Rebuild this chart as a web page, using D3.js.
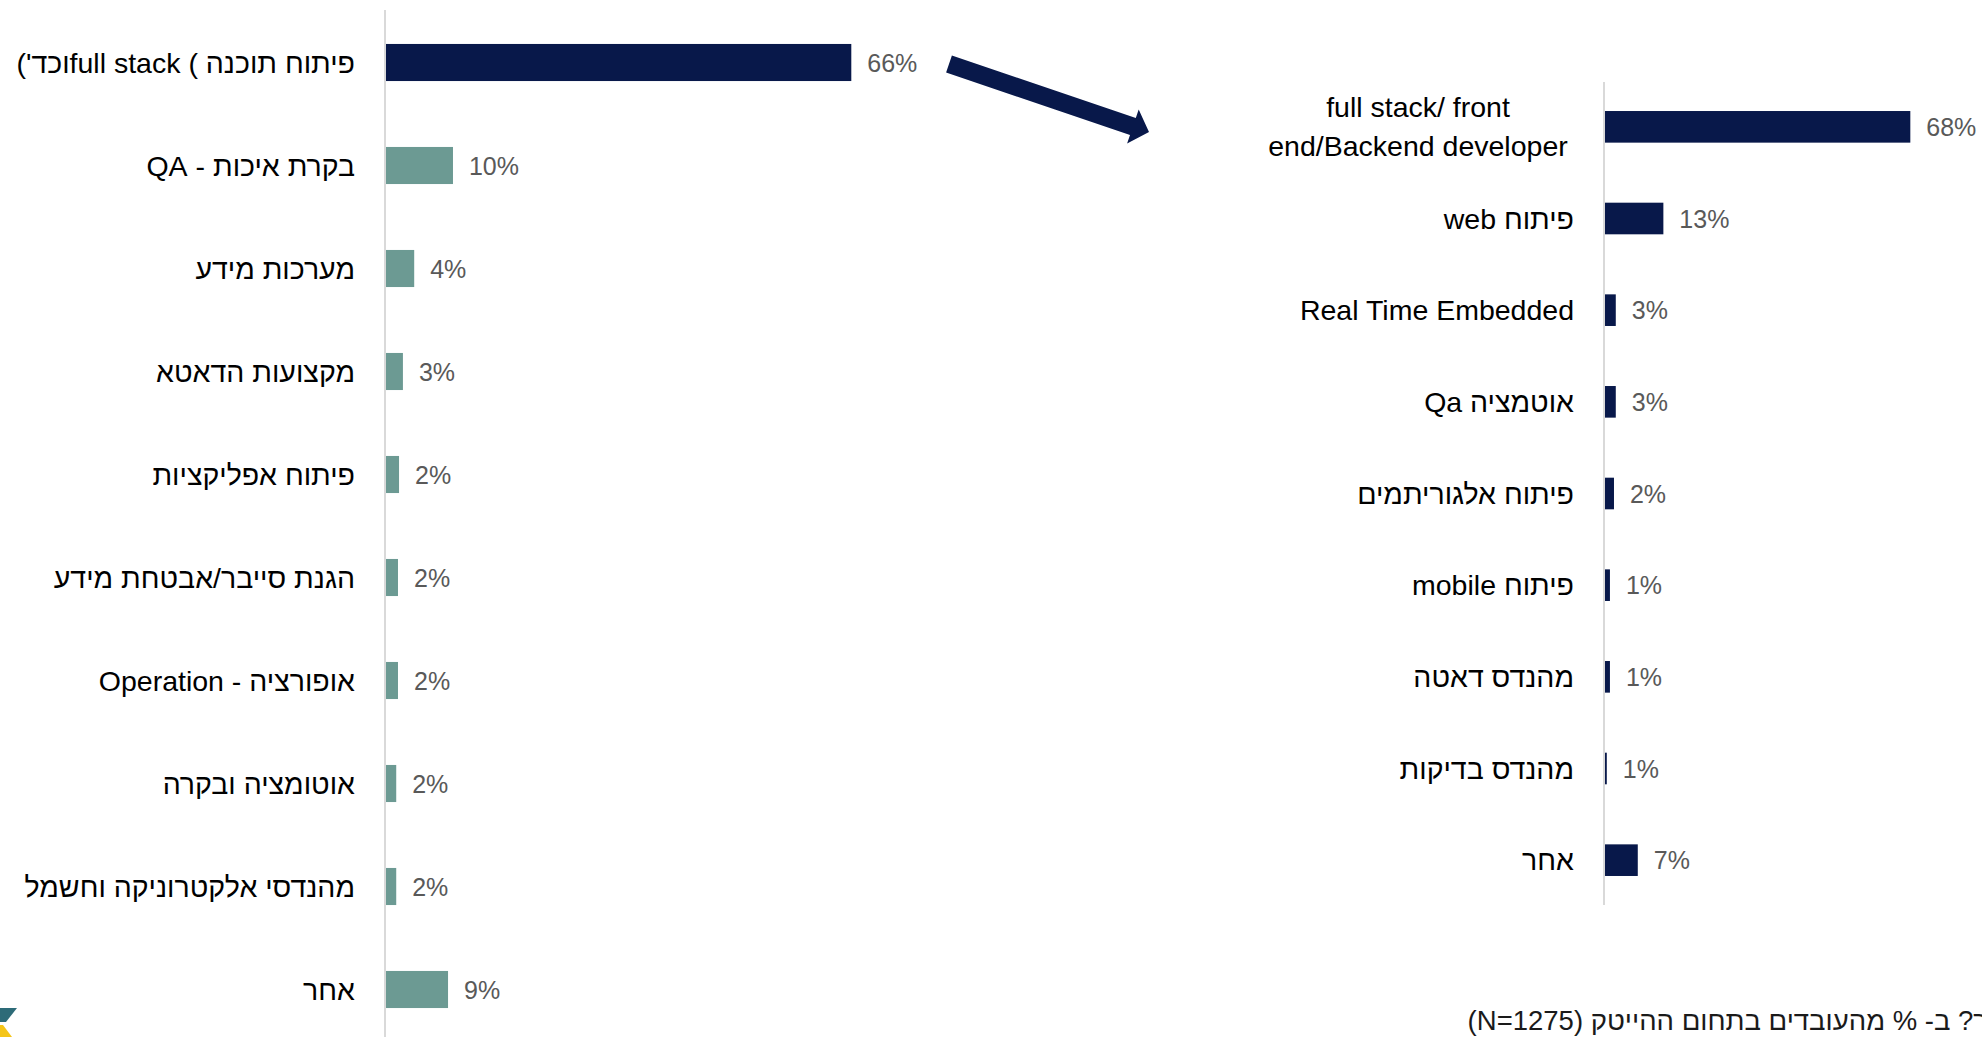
<!DOCTYPE html>
<html>
<head>
<meta charset="utf-8">
<script src="https://cdn.jsdelivr.net/npm/d3@7"></script>
<style>
  html, body { margin: 0; padding: 0; background: #fff; }
  svg { display: block; font-family: "Liberation Sans", Arial, sans-serif; }
</style>
</head>
<body>
<div class="layout"></div>
<script>
// left chart: all tech workers
var leftCats = [
    "פיתוח תוכנה ) full stackוכד')",
    "בקרת איכות - QA",
    "מערכות מידע",
    "מקצועות הדאטא",
    "פיתוח אפליקציות",
    "הגנת סייבר/אבטחת מידע",
    "אופורציה - Operation",
    "אוטומציה ובקרה",
    "מהנדסי אלקטרוניקה וחשמל",
    "אחר"
];
var leftValues = [66, 9.5, 4.0, 2.4, 1.85, 1.7, 1.7, 1.45, 1.45, 8.8];
var leftLabels = ["66%", "10%", "4%", "3%", "2%", "2%", "2%", "2%", "2%", "9%"];

// right chart: software development breakdown
var rightCats = [
    ["full stack/ front", "end/Backend developer"],
    "פיתוח web",
    "Real Time Embedded",
    "אוטמציה Qa",
    "פיתוח אלגוריתמים",
    "פיתוח mobile",
    "מהנדס דאטה",
    "מהנדס בדיקות",
    "אחר"
];
var rightValues = [68, 13, 2.4, 2.4, 2.0, 1.1, 1.1, 0.4, 7.3];
var rightLabels = ["68%", "13%", "3%", "3%", "2%", "1%", "1%", "1%", "7%"];

var footnote = "ך? ב- % מהעובדים בתחום ההייטק (N=1275)";

var navy = "#08184a",
    teal = "#6c9a93",
    grey = "#595959";

var W = 1982, H = 1037;

var svg = d3.select(".layout").append("svg")
    .attr("width", W)
    .attr("height", H);

svg.append("rect").attr("width", W).attr("height", H).attr("fill", "#fff");

function barChart(opt) {
    var idx = d3.range(opt.cats.length);

    var y = d3.scaleBand()
        .domain(idx)
        .range(opt.yRange)
        .paddingInner(opt.padIn)
        .paddingOuter(opt.padIn / 2);

    var x = d3.scaleLinear()
        .domain([0, 100])
        .range([opt.x0, opt.x0 + opt.span]);

    var g = svg.append("g").attr("class", opt.cls);

    g.selectAll("rect.bar")
        .data(idx)
        .enter().append("rect")
        .attr("class", "bar")
        .attr("x", x(0))
        .attr("y", function(i) { return y(i); })
        .attr("width", function(i) { return x(opt.values[i]) - x(0); })
        .attr("height", y.bandwidth())
        .attr("fill", function(i) { return opt.color(i); });

    // vertical axis line
    g.append("line")
        .attr("x1", x(0) - 1).attr("x2", x(0) - 1)
        .attr("y1", opt.axisY[0]).attr("y2", opt.axisY[1])
        .attr("stroke", "#d9d9d9")
        .attr("stroke-width", 2);

    g.selectAll("text.val")
        .data(idx)
        .enter().append("text")
        .attr("class", "val")
        .attr("x", function(i) { return x(opt.values[i]) + 16; })
        .attr("y", function(i) { return y(i) + y.bandwidth() / 2; })
        .attr("dy", "0.36em")
        .attr("fill", grey)
        .style("font-size", "25px")
        .text(function(i) { return opt.labels[i]; });

    var cat = g.selectAll("text.cat")
        .data(idx)
        .enter().append("text")
        .attr("class", "cat")
        .attr("y", function(i) { return y(i) + y.bandwidth() / 2; })
        .attr("fill", "#000")
        .style("font-size", "28.5px");

    cat.each(function(i) {
        var t = d3.select(this), c = opt.cats[i];
        if (Array.isArray(c)) {
            // wrapped label, centred like the original
            t.attr("x", opt.labelX - 156).attr("text-anchor", "middle");
            c.forEach(function(line, k) {
                t.append("tspan")
                    .attr("x", opt.labelX - 156)
                    .attr("dy", k === 0 ? "-0.36em" : "1.38em")
                    .text(line);
            });
        } else {
            t.attr("x", opt.labelX)
                .attr("dy", "0.36em")
                .attr("direction", "rtl")
                .attr("text-anchor", "start")
                .text(c);
        }
    });
}

barChart({
    cls: "left",
    cats: leftCats, values: leftValues, labels: leftLabels,
    yRange: [11, 1041], padIn: 0.64,
    x0: 386, span: 705,
    axisY: [10, 1037],
    labelX: 355,
    color: function(i) { return i === 0 ? navy : teal; }
});

barChart({
    cls: "right",
    cats: rightCats, values: rightValues, labels: rightLabels,
    yRange: [81, 906], padIn: 0.655,
    x0: 1605, span: 449,
    axisY: [82, 905],
    labelX: 1574,
    color: function() { return navy; }
});

// block arrow from the left 66% bar to the right chart
var aStart = [949, 64], aTip = [1149, 132];
var shaft = 18, headW = 36, headL = 17;
(function() {
    var dx = aTip[0] - aStart[0], dy = aTip[1] - aStart[1];
    var len = Math.sqrt(dx * dx + dy * dy);
    var u = [dx / len, dy / len], n = [-u[1], u[0]];
    function p(a, b) { return [aStart[0] + u[0] * a + n[0] * b, aStart[1] + u[1] * a + n[1] * b]; }
    var pts = [
        p(0, -shaft / 2), p(len - headL, -shaft / 2), p(len - headL, -headW / 2),
        p(len, 0),
        p(len - headL, headW / 2), p(len - headL, shaft / 2), p(0, shaft / 2)
    ];
    svg.append("path")
        .attr("d", d3.line()(pts) + "Z")
        .attr("fill", navy);
})();

// footnote (cut by the right edge, as in the source)
svg.append("text")
    .attr("x", 1988)
    .attr("y", 1030)
    .attr("direction", "rtl")
    .attr("text-anchor", "start")
    .attr("fill", "#1a1a1a")
    .style("font-size", "27.5px")
    .text(footnote);

// logo corner fragment
svg.append("path")
    .attr("d", d3.line()([[0, 1008], [17, 1008], [6, 1022], [0, 1022]]) + "Z")
    .attr("fill", "#2d6b78");
svg.append("path")
    .attr("d", d3.line()([[0, 1025], [3, 1025], [12, 1037], [0, 1037]]) + "Z")
    .attr("fill", "#f5c518");
</script>
</body>
</html>
